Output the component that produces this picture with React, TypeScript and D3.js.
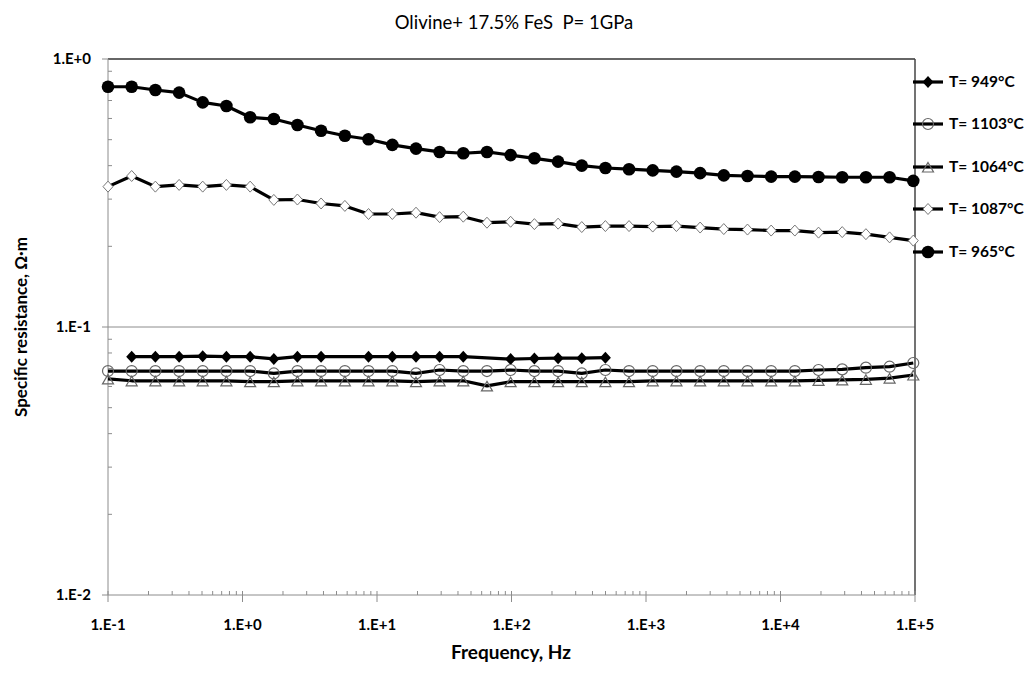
import React from 'react';
import * as d3 from 'd3';

// measurement frequencies, Hz
const freq = [
  0.1, 0.15, 0.225, 0.338, 0.506, 0.759, 1.14, 1.71, 2.56, 3.84, 5.77, 8.65,
  13.0, 19.5, 29.2, 43.8, 65.7, 98.5, 148, 222, 333, 499, 748, 1122, 1684,
  2526, 3788, 5683, 8524, 12786, 19179, 28768, 43153, 64729, 97094,
];

// specific resistance, Ohm*m
const r949 = [
  null, 0.0775, 0.0775, 0.0775, 0.0778, 0.0775, 0.0775, 0.076, 0.0775, 0.0775,
  null, 0.0775, 0.0775, 0.0775, 0.0775, 0.0775, null, 0.0759, 0.0763, 0.0765,
  0.0765, 0.0768, null, null, null, null, null, null, null, null, null, null,
  null, null, null,
];
const r1103 = [
  0.0685, 0.0685, 0.0685, 0.0685, 0.0685, 0.0685, 0.0685, 0.0671, 0.0685,
  0.0685, 0.0685, 0.0685, 0.0685, 0.0671, 0.0691, 0.0685, 0.0685, 0.0691,
  0.0685, 0.0685, 0.0671, 0.0691, 0.0685, 0.0685, 0.0685, 0.0685, 0.0685,
  0.0685, 0.0685, 0.0685, 0.0691, 0.0695, 0.0705, 0.0711, 0.0734,
];
const r1064 = [
  0.064, 0.063, 0.063, 0.063, 0.063, 0.063, 0.0625, 0.0625, 0.063, 0.063,
  0.063, 0.063, 0.063, 0.0625, 0.063, 0.063, 0.0603, 0.0625, 0.0625, 0.0625,
  0.0625, 0.0625, 0.0625, 0.063, 0.063, 0.063, 0.063, 0.063, 0.063, 0.063,
  0.0632, 0.0635, 0.0638, 0.0645, 0.0662,
];
const r1087 = [
  0.334, 0.366, 0.334, 0.339, 0.334, 0.339, 0.334, 0.298, 0.299, 0.289, 0.283,
  0.264, 0.264, 0.267, 0.257, 0.258, 0.245, 0.247, 0.242, 0.243, 0.236, 0.238,
  0.238, 0.237, 0.238, 0.235, 0.232, 0.231, 0.229, 0.229, 0.225, 0.226, 0.222,
  0.216, 0.21,
];
const r965 = [
  0.788, 0.788, 0.766, 0.749, 0.689, 0.668, 0.606, 0.597, 0.567, 0.54, 0.517,
  0.502, 0.478, 0.463, 0.45, 0.445, 0.45, 0.438, 0.426, 0.414, 0.4, 0.392,
  0.388, 0.384, 0.38, 0.375, 0.368, 0.366, 0.364, 0.364, 0.363, 0.362, 0.362,
  0.362, 0.351,
];

const seriesNames = ['T= 949°C', 'T= 1103°C', 'T= 1064°C', 'T= 1087°C', 'T= 965°C'];
const seriesValues = [r949, r1103, r1064, r1087, r965];
const seriesMarkers = ['diamondFilled', 'circleOpen', 'triangleOpen', 'diamondOpen', 'circleFilled'];

const xTicks = [0.1, 1, 10, 100, 1000, 10000, 100000];
const xTickLabels = ['1.E-1', '1.E+0', '1.E+1', '1.E+2', '1.E+3', '1.E+4', '1.E+5'];
const yTicks = [0.01, 0.1, 1];
const yTickLabels = ['1.E-2', '1.E-1', '1.E+0'];

const W = 1030;
const H = 677;
const FONT = 'Lato, "Open Sans", sans-serif';

const Marker = ({ kind, x, y }: { kind: string; x: number; y: number }) => {
  if (kind === 'circleFilled') return <circle cx={x} cy={y} r={6.3} fill="#000" />;
  if (kind === 'circleOpen')
    return <circle cx={x} cy={y} r={5.5} fill="none" stroke="#666" strokeWidth={1.2} />;
  if (kind === 'diamondFilled')
    return <path d={`M${x},${y - 6}L${x + 5.5},${y}L${x},${y + 6}L${x - 5.5},${y}Z`} fill="#000" />;
  if (kind === 'diamondOpen')
    return (
      <path
        d={`M${x},${y - 5.5}L${x + 5},${y}L${x},${y + 5.5}L${x - 5},${y}Z`}
        fill="#fff"
        stroke="#777"
        strokeWidth={1}
      />
    );
  // open triangle
  return (
    <path
      d={`M${x},${y - 4.5}L${x + 5.5},${y + 5}L${x - 5.5},${y + 5}Z`}
      fill="none"
      stroke="#666"
      strokeWidth={1.2}
    />
  );
};

const App = () => {
  const margin = { top: 59, right: 115, bottom: 82, left: 108 };
  const plotRight = W - margin.right;
  const plotBottom = H - margin.bottom;

  const xScale = d3.scaleLog().domain([0.1, 100000]).range([margin.left, plotRight]);
  const yScale = d3.scaleLog().domain([0.01, 1]).range([plotBottom, margin.top]);

  // minor ticks 2..9 inside each decade
  const xMinor: number[] = [];
  for (let e = -1; e < 5; e++) for (let m = 2; m < 10; m++) xMinor.push(m * Math.pow(10, e));
  const yMinor: number[] = [];
  for (let e = -2; e < 0; e++) for (let m = 2; m < 10; m++) yMinor.push(m * Math.pow(10, e));

  const line = d3
    .line<[number, number]>()
    .x((d) => xScale(d[0]))
    .y((d) => yScale(d[1]));

  const legendY = [82, 124, 167, 209, 252];

  return (
    <svg width={W} height={H} style={{ display: 'block', position: 'absolute', left: 0, top: 0, background: '#fff' }}>
      <rect width={W} height={H} fill="#fff" />

      {/* title */}
      <text x={514} y={29} textAnchor="middle" fontFamily={FONT} fontSize={18.5} fill="#000" style={{ whiteSpace: 'pre' }}>
        {'Olivine+ 17.5% FeS  P= 1GPa'}
      </text>

      {/* gridlines and frame */}
      <line x1={margin.left} x2={plotRight} y1={yScale(0.1)} y2={yScale(0.1)} stroke="#8c8c8c" strokeWidth={1} />
      <line x1={margin.left} x2={plotRight} y1={yScale(1)} y2={yScale(1)} stroke="#333" strokeWidth={1.5} />
      <line x1={plotRight} x2={plotRight} y1={margin.top} y2={plotBottom} stroke="#444" strokeWidth={1.5} />

      {/* x axis */}
      <line x1={margin.left} x2={plotRight} y1={plotBottom} y2={plotBottom} stroke="#8c8c8c" />
      {xMinor.map((v, i) => (
        <line key={'xm' + i} x1={xScale(v)} x2={xScale(v)} y1={plotBottom - 4} y2={plotBottom} stroke="#8c8c8c" />
      ))}
      {xTicks.map((v, i) => (
        <g key={'xt' + i}>
          <line x1={xScale(v)} x2={xScale(v)} y1={plotBottom - 4} y2={plotBottom + 7} stroke="#8c8c8c" />
          <text x={xScale(v)} y={plotBottom + 35} textAnchor="middle" fontFamily={FONT} fontWeight="bold" fontSize={15}>
            {xTickLabels[i]}
          </text>
        </g>
      ))}

      {/* y axis */}
      <line x1={margin.left} x2={margin.left} y1={margin.top} y2={plotBottom} stroke="#8c8c8c" />
      {yMinor.map((v, i) => (
        <line key={'ym' + i} x1={margin.left} x2={margin.left + 4} y1={yScale(v)} y2={yScale(v)} stroke="#8c8c8c" />
      ))}
      {yTicks.map((v, i) => (
        <g key={'yt' + i}>
          <line x1={margin.left - 6} x2={margin.left} y1={yScale(v)} y2={yScale(v)} stroke="#8c8c8c" />
          <text x={margin.left - 17} y={yScale(v) + 5} textAnchor="end" fontFamily={FONT} fontWeight="bold" fontSize={15}>
            {yTickLabels[i]}
          </text>
        </g>
      ))}

      {/* axis titles */}
      <text x={511} y={659} textAnchor="middle" fontFamily={FONT} fontWeight="bold" fontSize={19}>
        Frequency, Hz
      </text>
      <text
        transform={`translate(27, ${(margin.top + plotBottom) / 2}) rotate(-90)`}
        textAnchor="middle"
        fontFamily={FONT}
        fontWeight="bold"
        fontSize={17}
      >
        Specific resistance, Ω·m
      </text>

      {/* series */}
      {seriesValues.map((vals, s) => {
        const pts = freq
          .map((f, i) => [f, vals[i]] as [number, number | null])
          .filter((d) => d[1] !== null) as [number, number][];
        return (
          <g key={'s' + s}>
            <path d={line(pts) || ''} fill="none" stroke="#000" strokeWidth={3.2} strokeLinejoin="round" />
            {pts.map((d, i) => (
              <Marker key={i} kind={seriesMarkers[s]} x={xScale(d[0])} y={yScale(d[1])} />
            ))}
          </g>
        );
      })}

      {/* legend */}
      {seriesNames.map((name, i) => (
        <g key={'lg' + i}>
          <line x1={913} x2={943} y1={legendY[i]} y2={legendY[i]} stroke="#000" strokeWidth={3.2} />
          <Marker kind={seriesMarkers[i]} x={928} y={legendY[i]} />
          <text x={949} y={legendY[i] + 5} fontFamily={FONT} fontWeight="bold" fontSize={15.5}>
            {name}
          </text>
        </g>
      ))}
    </svg>
  );
};

export default App;
